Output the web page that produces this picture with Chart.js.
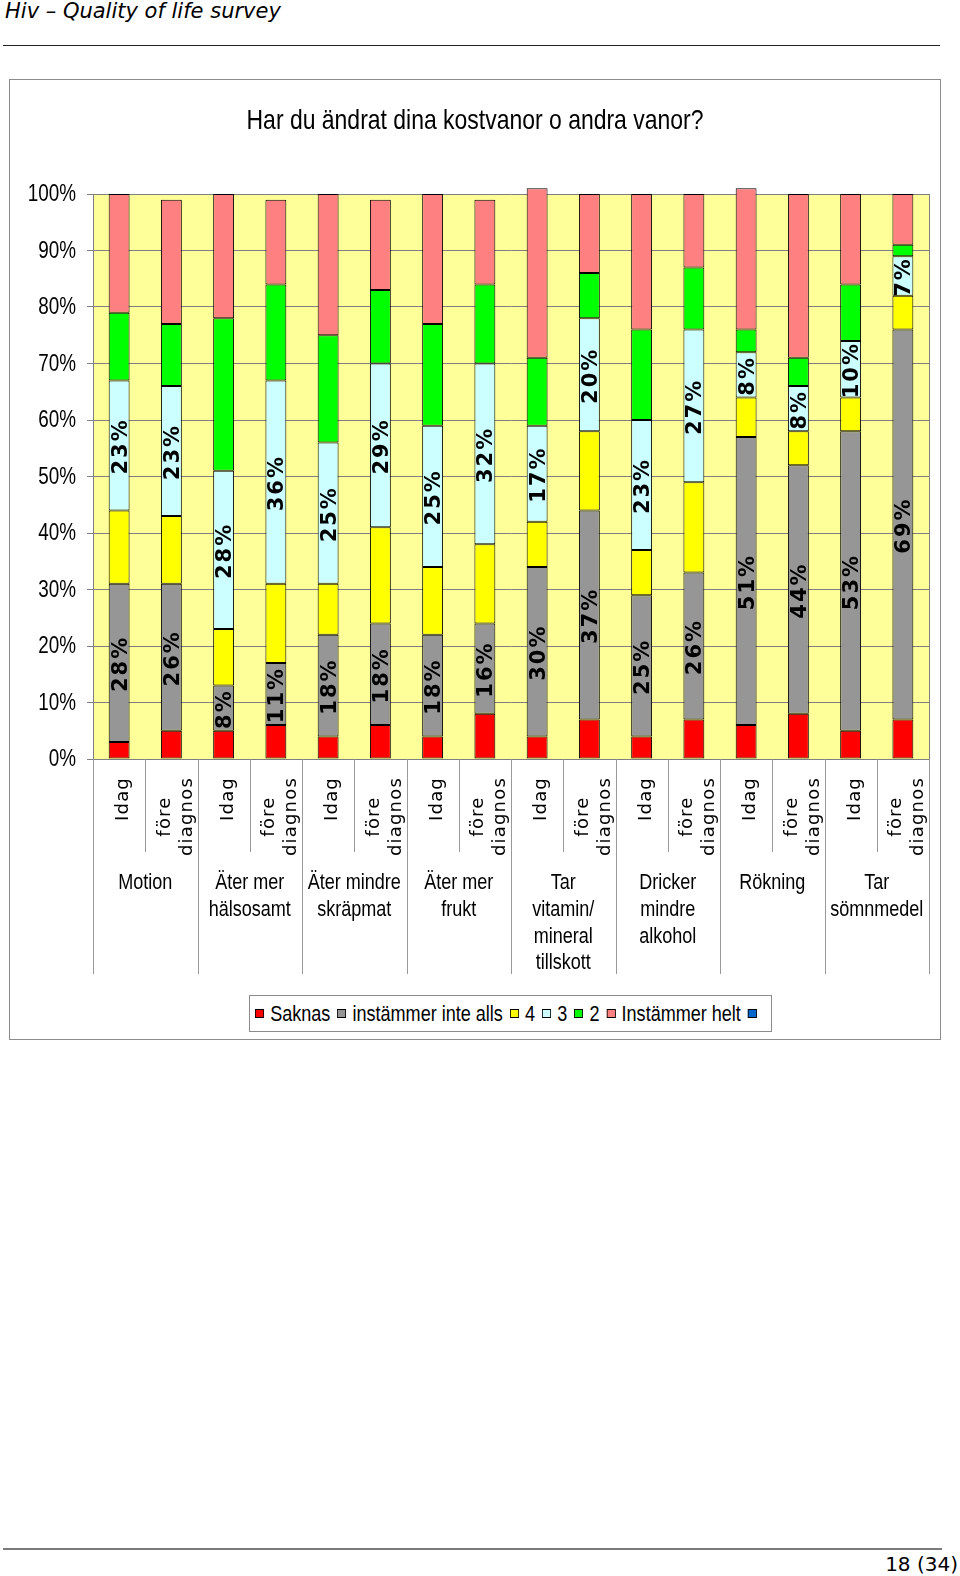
<!DOCTYPE html>
<html>
<head>
<meta charset="utf-8">
<script src="https://cdn.jsdelivr.net/npm/chart.js@4.4.1/dist/chart.umd.min.js"></script>
<style>
  body { margin: 0; width: 960px; height: 1576px; position: relative; background: #fff; overflow: hidden; }
  #header { position: absolute; left: 5px; top: -1px; font: italic 21px 'DejaVu Sans', sans-serif; line-height: 24px; color: #000; }
  #headerLine { position: absolute; left: 3px; top: 45px; width: 937px; height: 1px; background: #222; }
  #box { position: absolute; left: 9px; top: 79px; width: 930px; height: 959px; border: 1px solid #8c8c8c; }
  #chartWrap { position: absolute; left: 0; top: 0; width: 930px; height: 959px; }
  #legend { position: absolute; left: 239px; top: 915px; width: 516px; height: 35px; padding-left: 5px;
            border: 1px solid #8c8c8c; background: #fff; overflow: hidden; }
  #legendInner { display: flex; align-items: center; height: 35px; white-space: nowrap;
                 transform: scaleX(0.82); transform-origin: left center;
                 font: 22px 'Liberation Sans', sans-serif; color: #000; }
  #legendInner .item { display: flex; align-items: center; margin-right: 8.5px; }
  #legendInner .item:last-child { margin-right: 0; }
  #legendInner .sw { width: 9px; height: 7px; border: 1px solid #000; margin-right: 7.5px; }
  #footerLine { position: absolute; left: 3px; top: 1548px; width: 939px; height: 2px; background: #7a7a7a; }
  #footer { position: absolute; right: 2px; top: 1552px; font: 20px 'DejaVu Sans', sans-serif; line-height: 24px; color: #000; }
</style>
</head>
<body>
<div id="header">Hiv – Quality of life survey</div>
<div id="headerLine"></div>
<div id="box">
  <div id="chartWrap"><canvas id="chart"></canvas></div>
  <div id="legend"><div id="legendInner"></div></div>
</div>
<div id="footerLine"></div>
<div id="footer">18 (34)</div>

<script>
const chartTitle = 'Har du ändrat dina kostvanor o andra vanor?';

// categories: one group per question, two bars (today / before diagnosis) per group
const groups = [
  ['Motion'],
  ['Äter mer', 'hälsosamt'],
  ['Äter mindre', 'skräpmat'],
  ['Äter mer', 'frukt'],
  ['Tar', 'vitamin/', 'mineral', 'tillskott'],
  ['Dricker', 'mindre', 'alkohol'],
  ['Rökning'],
  ['Tar', 'sömnmedel']
];
const barLabels = [
  ['Idag'], ['före', 'diagnos'], ['Idag'], ['före', 'diagnos'],
  ['Idag'], ['före', 'diagnos'], ['Idag'], ['före', 'diagnos'],
  ['Idag'], ['före', 'diagnos'], ['Idag'], ['före', 'diagnos'],
  ['Idag'], ['före', 'diagnos'], ['Idag'], ['före', 'diagnos']
];

// series values (%)
const saknas   = [3, 5, 5, 6, 4, 6, 4, 8, 4, 7, 4, 7, 6, 8, 5, 7];
const inteAlls = [28, 26, 8, 11, 18, 18, 18, 16, 30, 37, 25, 26, 51, 44, 53, 69];
const fyra     = [13, 12, 10, 14, 9, 17, 12, 14, 8, 14, 8, 16, 7, 6, 6, 6];
const tre      = [23, 23, 28, 36, 25, 29, 25, 32, 17, 20, 23, 27, 8, 8, 10, 7];
const tva      = [12, 11, 27, 17, 19, 13, 18, 14, 12, 8, 16, 11, 4, 5, 10, 2];
const helt     = [21, 22, 22, 15, 25, 16, 23, 15, 30, 14, 24, 13, 25, 29, 16, 9];

const yTicks = [0, 10, 20, 30, 40, 50, 60, 70, 80, 90, 100];

// Arial Narrow look-alike: Liberation Sans squeezed horizontally
const SANS = "'Liberation Sans', sans-serif";
const SQUEEZE = 0.82;

function narrowText(ctx, text, x, y, align) {
  ctx.save();
  ctx.translate(x, y);
  ctx.scale(SQUEEZE, 1);
  ctx.textAlign = align;
  ctx.fillText(text, 0, 0);
  ctx.restore();
}

function ds(label, data, color) {
  return {
    label: label,
    data: data,
    backgroundColor: color,
    borderColor: '#000',
    borderWidth: 1,
    borderSkipped: false,
    barPercentage: 0.4,
    categoryPercentage: 1,
    clip: false
  };
}

// yellow plot background + frame
const plotBg = {
  id: 'plotBg',
  beforeDraw(chart) {
    const { ctx, chartArea: a } = chart;
    ctx.save();
    ctx.fillStyle = '#FFFF99';
    ctx.fillRect(a.left, a.top, a.right - a.left, a.bottom - a.top);
    ctx.restore();
  },
  afterDraw(chart) {
    const { ctx, chartArea: a } = chart;
    ctx.save();
    ctx.strokeStyle = '#808080';
    ctx.lineWidth = 1;
    ctx.beginPath();
    ctx.moveTo(Math.round(a.right) + 0.5, a.top);
    ctx.lineTo(Math.round(a.right) + 0.5, a.bottom);
    ctx.stroke();
    ctx.restore();
  }
};

// title and y tick labels in the narrow face
const narrowTexts = {
  id: 'narrowTexts',
  afterDraw(chart) {
    const { ctx, chartArea: a } = chart;
    const y = chart.scales.y;
    ctx.save();
    ctx.fillStyle = '#000';
    ctx.textBaseline = 'middle';
    ctx.font = '28px ' + SANS;
    narrowText(ctx, chartTitle, chart.width / 2, 41, 'center');
    ctx.font = '23px ' + SANS;
    yTicks.forEach(v => {
      narrowText(ctx, v + '%', a.left - 17, y.getPixelForValue(v) + 1, 'right');
    });
    ctx.restore();
  }
};

// percent labels on the "instämmer inte alls" and "3" segments
const segLabels = {
  id: 'segLabels',
  afterDatasetsDraw(chart) {
    const ctx = chart.ctx;
    ctx.save();
    ctx.font = "bold 21px 'DejaVu Sans', sans-serif";
    ctx.letterSpacing = '2px';
    ctx.fillStyle = '#000';
    ctx.textAlign = 'center';
    ctx.textBaseline = 'middle';
    [1, 3].forEach(i => {
      const meta = chart.getDatasetMeta(i);
      const values = chart.data.datasets[i].data;
      meta.data.forEach((bar, j) => {
        const p = bar.getProps(['x', 'y', 'base'], true);
        ctx.save();
        ctx.translate(p.x + 2, (p.y + p.base) / 2 + 1);
        ctx.rotate(-Math.PI / 2);
        ctx.fillText(values[j] + '%', 0, 0);
        ctx.restore();
      });
    });
    ctx.restore();
  }
};

// two-level x axis: rotated bar labels, group names, separator lines
const xLabels = {
  id: 'xLabels',
  afterDraw(chart) {
    const ctx = chart.ctx;
    const x = chart.scales.x;
    const a = chart.chartArea;
    const n = barLabels.length;
    const step = (a.right - a.left) / n;
    ctx.save();

    // separators
    ctx.strokeStyle = '#999';
    ctx.lineWidth = 1;
    for (let i = 0; i <= n; i++) {
      const px = Math.round(a.left + i * step) + 0.5;
      const end = i % 2 === 0 ? a.bottom + 215 : a.bottom + 93;
      ctx.beginPath();
      ctx.moveTo(px, a.bottom);
      ctx.lineTo(px, end);
      ctx.stroke();
    }

    // rotated bar labels
    ctx.fillStyle = '#000';
    ctx.font = "18px 'DejaVu Sans', sans-serif";
    ctx.letterSpacing = '1.2px';
    ctx.textAlign = 'center';
    ctx.textBaseline = 'middle';
    barLabels.forEach((lines, i) => {
      const cx = x.getPixelForValue(i);
      const w = Math.max(...lines.map(l => ctx.measureText(l).width));
      const cy = a.bottom + 18 + w / 2;
      lines.forEach((l, k) => {
        ctx.save();
        ctx.translate(cx + 4.5 + (k - (lines.length - 1) / 2) * 22, cy);
        ctx.rotate(-Math.PI / 2);
        ctx.fillText(l, 0, 0);
        ctx.restore();
      });
    });

    // group names
    ctx.letterSpacing = '0px';
    ctx.font = '22px ' + SANS;
    groups.forEach((lines, g) => {
      const cx = (x.getPixelForValue(g * 2) + x.getPixelForValue(g * 2 + 1)) / 2;
      lines.forEach((l, k) => {
        narrowText(ctx, l, cx, a.bottom + 124 + k * 26.8, 'center');
      });
    });
    ctx.restore();
  }
};

// html legend built from the datasets
const htmlLegend = {
  id: 'htmlLegend',
  afterUpdate(chart) {
    const box = document.getElementById('legendInner');
    box.innerHTML = '';
    chart.data.datasets.forEach(d => {
      const item = document.createElement('div');
      item.className = 'item';
      const sw = document.createElement('span');
      sw.className = 'sw';
      sw.style.background = d.backgroundColor;
      item.appendChild(sw);
      if (d.label) {
        const t = document.createElement('span');
        t.textContent = d.label;
        item.appendChild(t);
      }
      box.appendChild(item);
    });
  }
};

const ctx = document.getElementById('chart').getContext('2d');
const myChart = new Chart(ctx, {
  type: 'bar',
  data: {
    labels: barLabels.map(l => l.join(' ')),
    datasets: [
      ds('Saknas', saknas, '#FF0000'),
      ds('instämmer inte alls', inteAlls, '#969696'),
      ds('4', fyra, '#FFFF00'),
      ds('3', tre, '#CCFFFF'),
      ds('2', tva, '#00FF00'),
      ds('Instämmer helt', helt, '#FF8080'),
      ds('', [], '#0066CC')
    ]
  },
  options: {
    responsive: true,
    maintainAspectRatio: false,
    animation: false,
    layout: { padding: { left: 0, right: 11, top: 114, bottom: 0 } },
    scales: {
      x: {
        stacked: true,
        grid: { display: false },
        border: { display: false },
        ticks: { display: false },
        afterFit(s) { s.height = 280; }
      },
      y: {
        stacked: true,
        min: 0,
        max: 100,
        afterBuildTicks(s) { s.ticks = yTicks.map(v => ({ value: v })); },
        afterFit(s) { s.width = 83; },
        grid: { color: '#808080', lineWidth: 1, tickLength: 6 },
        border: { display: true, color: '#808080' },
        ticks: { display: false }
      }
    },
    plugins: {
      legend: { display: false },
      tooltip: { enabled: false },
      title: { display: false }
    }
  },
  plugins: [plotBg, narrowTexts, segLabels, xLabels, htmlLegend]
});
</script>
</body>
</html>
